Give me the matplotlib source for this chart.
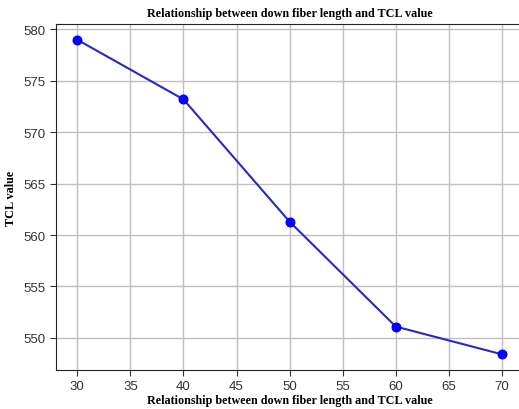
import numpy as np
import matplotlib.pyplot as plt

lengths = [30, 40, 50, 60, 70]
tcl = [579.0, 573.2, 561.3, 551.1, 548.4]
title = 'Relationship between down fiber length and TCL value'

fig = plt.figure(figsize=(5.19, 4.10), dpi=100)
ax = fig.add_axes([0.108, 0.095, 0.9, 0.844])

ax.plot(lengths, tcl, color='#2828c8', linewidth=1.5, zorder=3)
ax.plot(lengths, tcl, 'o', color='blue', markersize=6.2, zorder=4)

ax.grid(True, color='#c0c0c0', linewidth=1.0)
ax.set_axisbelow(True)
ax.set_yticks([550, 555, 560, 565, 570, 575, 580])
ax.set_xticks(np.arange(30, 71, 5))
ax.tick_params(labelsize=9.5, labelcolor='#333333', length=4, color='#333333')
for lab in ax.get_xticklabels() + ax.get_yticklabels():
    lab.set_family('Liberation Sans')

for s in ['left', 'bottom', 'top']:
    ax.spines[s].set_color('#222222')
ax.spines['right'].set_visible(False)

ax.set_title(title, family='Liberation Serif', fontweight='bold', fontsize=8.7, pad=6)
ax.set_xlabel(title, family='Liberation Serif', fontweight='bold', fontsize=8.7, labelpad=1)
ax.set_ylabel('TCL value', family='Liberation Serif', fontweight='bold', fontsize=8.7, labelpad=5)

fig.savefig('out.png', dpi=100)
